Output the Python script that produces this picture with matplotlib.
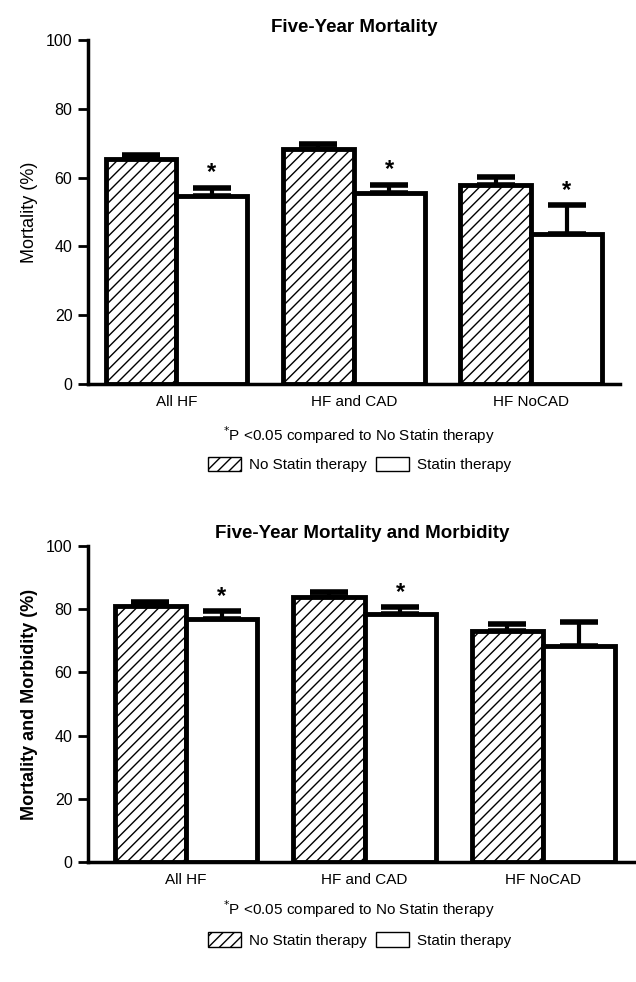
import numpy as np
import matplotlib
matplotlib.use('Agg')
import matplotlib.pyplot as plt
from matplotlib.patches import Patch

plt.rcParams['font.family'] = ['Liberation Sans', 'DejaVu Sans']
plt.rcParams['hatch.linewidth'] = 1.0

groups = ['All HF', 'HF and CAD', 'HF NoCAD']
series = ['No Statin therapy', 'Statin therapy']

# five-year mortality (%)
mort_no_statin = [65.5, 68.5, 58.0]
mort_no_statin_err = [1.2, 1.4, 2.3]
mort_statin = [54.8, 55.5, 43.5]
mort_statin_err = [2.3, 2.5, 8.5]
mort_sig = [True, True, True]

# five-year mortality and morbidity (%)
morb_no_statin = [81.0, 84.0, 73.2]
morb_no_statin_err = [1.3, 1.3, 2.2]
morb_statin = [77.0, 78.5, 68.5]
morb_statin_err = [2.3, 2.3, 7.5]
morb_sig = [True, True, False]


def draw_panel(ax, no_statin, no_err, statin, statin_err, sig, title, ylabel, ylabel_bold):
    x = np.arange(len(groups))
    w = 0.4
    ax.bar(x - w / 2, no_statin, w, facecolor='white', edgecolor='black',
           linewidth=3.5, hatch='///', zorder=2)
    ax.bar(x + w / 2, statin, w, facecolor='white', edgecolor='black',
           linewidth=3.5, zorder=2)
    ax.errorbar(x - w / 2, no_statin, yerr=[np.zeros(3), no_err], fmt='none',
                ecolor='black', elinewidth=3, capsize=14, capthick=4, zorder=1)
    ax.errorbar(x + w / 2, statin, yerr=[np.zeros(3), statin_err], fmt='none',
                ecolor='black', elinewidth=3, capsize=14, capthick=4, zorder=1)
    for i in range(len(groups)):
        if sig[i]:
            ax.text(x[i] + w / 2, statin[i] + statin_err[i] + 1.0, '*',
                    ha='center', va='bottom', fontsize=17, fontweight='bold')

    ax.set_ylim(0, 100)
    ax.set_yticks([0, 20, 40, 60, 80, 100])
    ax.set_xticks(x)
    ax.set_xticklabels(groups, fontsize=11)
    ax.tick_params(axis='x', length=0, pad=8)
    ax.tick_params(axis='y', length=7, width=2, labelsize=11.5, pad=4)
    for s in ['top', 'right']:
        ax.spines[s].set_visible(False)
    for s in ['left', 'bottom']:
        ax.spines[s].set_linewidth(2.5)
    ax.set_title(title, fontsize=13.5, fontweight='bold', pad=6)
    ax.set_ylabel(ylabel, fontsize=13, fontweight='bold' if ylabel_bold else 'normal', labelpad=6)


fig = plt.figure(figsize=(6.36, 9.82), dpi=100)

ax1 = fig.add_axes([0.138, 0.609, 0.837, 0.350])
draw_panel(ax1, mort_no_statin, mort_no_statin_err, mort_statin, mort_statin_err,
           mort_sig, 'Five-Year Mortality', 'Mortality (%)', False)
ax1.set_xlim(-0.5, 2.5)

ax2 = fig.add_axes([0.138, 0.122, 0.862, 0.322])
draw_panel(ax2, morb_no_statin, morb_no_statin_err, morb_statin, morb_statin_err,
           morb_sig, 'Five-Year Mortality and Morbidity', 'Mortality and Morbidity (%)', True)
ax2.set_xlim(-0.55, 2.52)

handles = [Patch(facecolor='white', edgecolor='black', hatch='///', linewidth=1),
           Patch(facecolor='white', edgecolor='black', linewidth=1)]

for ax, y_note, y_leg in [(ax1, 0.557, 0.527), (ax2, 0.074, 0.043)]:
    fig.text(0.565, y_note, r'$^{*}$P <0.05 compared to No Statin therapy',
             ha='center', va='center', fontsize=11)
    fig.legend(handles, series, loc='center', bbox_to_anchor=(0.565, y_leg),
               ncol=2, frameon=False, fontsize=11, handlelength=2.2,
               handleheight=1.1, columnspacing=0.6, handletextpad=0.5)

fig.savefig('out.png', dpi=100)
